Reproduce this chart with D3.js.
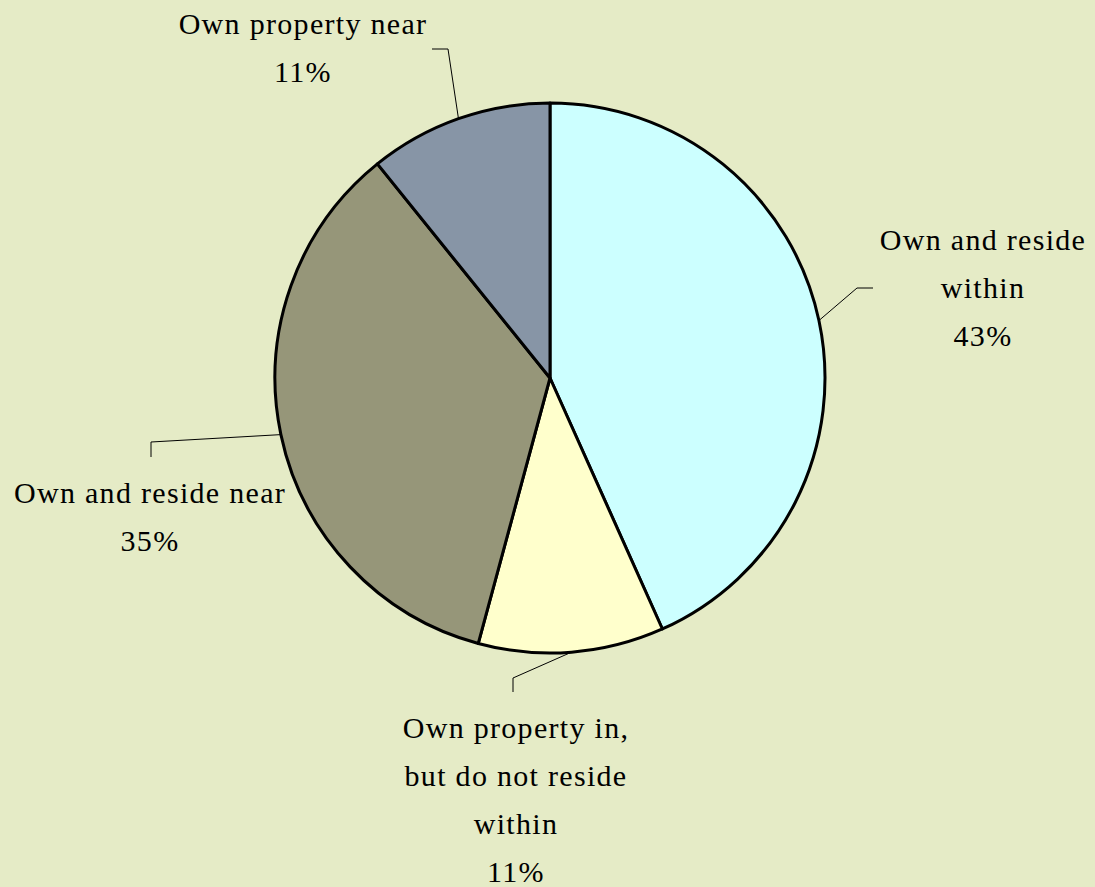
<!DOCTYPE html>
<html>
<head>
<meta charset="utf-8">
<script src="https://cdn.jsdelivr.net/npm/d3@7"></script>
<style>
  body { margin: 0; background: #e5ebc6; }
</style>
</head>
<body>
<div id="chart"></div>
<script>
// chart data (shares; labels show them rounded)
var categories = ["Own and reside within", "Own property in, but do not reside within", "Own and reside near", "Own property near"];
var shares = [43.3, 10.9, 35.0, 10.8];
var colors = ["#ccffff", "#ffffcc", "#969679", "#8795a6"];
// category text split into lines like the reference
var labelLines = [
    ["Own and reside", "within"],
    ["Own property in,", "but do not reside", "within"],
    ["Own and reside near"],
    ["Own property near"]
];

var width = 1095, height = 887;
var cx = 550, cy = 378, radius = 275;

// leader line elbows and label placement (relative to pie center)
var layout = [
    {elbow: [307, -90], end: [323, -90], tx: 433, ty: -138},
    {elbow: [-37, 300], end: [-37, 314], tx: -34, ty: 350},
    {elbow: [-399, 64], end: [-399, 79], tx: -400, ty: 115},
    {elbow: [-102, -329], end: [-118, -329], tx: -247, ty: -354}
];
var lineGap = 48;

var svg = d3.select("#chart").append("svg")
    .attr("width", width)
    .attr("height", height);

svg.append("rect")
    .attr("width", width)
    .attr("height", height)
    .attr("fill", "#e5ebc6");

var g = svg.append("g")
    .attr("transform", "translate(" + cx + "," + cy + ")");

var pie = d3.pie().sort(null).value(function(d) { return d; });
var arcs = pie(shares);

var arc = d3.arc().innerRadius(0).outerRadius(radius);

g.selectAll("path.slice")
    .data(arcs)
    .enter()
    .append("path")
    .attr("class", "slice")
    .attr("d", arc)
    .attr("fill", function(d, i) { return colors[i]; })
    .attr("stroke", "#000")
    .attr("stroke-width", 3)
    .attr("stroke-linejoin", "round");

// leader lines from the slice edge at its mid angle
g.selectAll("polyline.leader")
    .data(arcs)
    .enter()
    .append("polyline")
    .attr("class", "leader")
    .attr("fill", "none")
    .attr("stroke", "#000")
    .attr("stroke-width", 1)
    .attr("points", function(d, i) {
        var a = (d.startAngle + d.endAngle) / 2;
        var p0 = [radius * Math.sin(a), -radius * Math.cos(a)];
        var L = layout[i];
        return [p0, L.elbow, L.end].map(function(p) { return p.join(","); }).join(" ");
    });

// labels: category lines then rounded percent
arcs.forEach(function(d, i) {
    var L = layout[i];
    var lines = labelLines[i].concat([Math.round(d.data) + "%"]);
    var t = g.append("text")
        .attr("text-anchor", "middle")
        .attr("x", L.tx)
        .attr("y", L.ty)
        .style("font-family", "'Liberation Serif'")
        .style("font-size", "30px")
        .style("letter-spacing", "1.3px")
        .style("fill", "#000");
    lines.forEach(function(line, j) {
        t.append("tspan")
            .attr("x", L.tx)
            .attr("y", L.ty + j * lineGap + 10)
            .text(line);
    });
});
</script>
</body>
</html>
